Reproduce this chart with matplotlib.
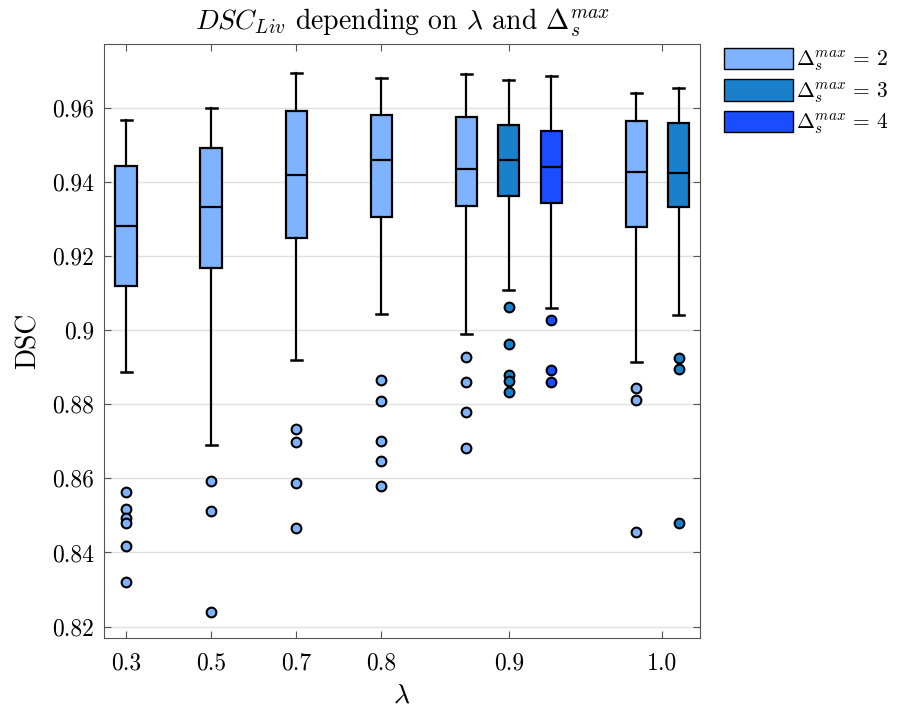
import matplotlib
matplotlib.use('Agg')
import matplotlib.pyplot as plt
from matplotlib.patches import Patch

plt.rcParams['font.family'] = 'serif'
plt.rcParams['font.serif'] = ['cmr10']
plt.rcParams['mathtext.fontset'] = 'cm'
plt.rcParams['axes.unicode_minus'] = False

# data
positions = [1, 2, 3, 4, 5, 5.5, 6, 7, 7.5]
groups = [2, 2, 2, 2, 2, 3, 4, 2, 3]
whislo = [0.8887, 0.8690, 0.8920, 0.9045, 0.8989, 0.9110, 0.9060, 0.8914, 0.9041]
q1 = [0.9120, 0.9168, 0.9248, 0.9305, 0.9335, 0.9363, 0.9343, 0.9280, 0.9334]
med = [0.9282, 0.9332, 0.9418, 0.9460, 0.9435, 0.9460, 0.9442, 0.9427, 0.9425]
q3 = [0.9443, 0.9493, 0.9591, 0.9581, 0.9575, 0.9555, 0.9539, 0.9566, 0.9560]
whishi = [0.9568, 0.9600, 0.9696, 0.9681, 0.9691, 0.9676, 0.9686, 0.9642, 0.9654]
fliers = [
    [0.8564, 0.8518, 0.8494, 0.8479, 0.8418, 0.8320],
    [0.8594, 0.8512, 0.8240],
    [0.8734, 0.8698, 0.8588, 0.8466],
    [0.8866, 0.8809, 0.8701, 0.8647, 0.8580],
    [0.8927, 0.8861, 0.8780, 0.8681],
    [0.9062, 0.8962, 0.8879, 0.8864, 0.8833],
    [0.9028, 0.8893, 0.8860],
    [0.8843, 0.8811, 0.8456],
    [0.8926, 0.8895, 0.8480],
]
tick_pos = [1, 2, 3, 4, 5.5, 7.3]
tick_labels = ['0.3', '0.5', '0.7', '0.8', '0.9', '1.0']
ytick_vals = [0.82, 0.84, 0.86, 0.88, 0.9, 0.92, 0.94, 0.96]
ytick_labels = ['0.82', '0.84', '0.86', '0.88', '0.9', '0.92', '0.94', '0.96']

colors = {2: '#80b3ff', 3: '#1a80cc', 4: '#1a4dff'}

fig = plt.figure(figsize=(8.98, 7.10), dpi=100)
ax = fig.add_axes([0.1158, 0.1014, 0.6637, 0.8366])

stats = []
for i in range(len(positions)):
    stats.append({'whislo': whislo[i], 'q1': q1[i], 'med': med[i], 'q3': q3[i],
                  'whishi': whishi[i], 'fliers': fliers[i]})

for i in range(len(stats)):
    c = colors[groups[i]]
    ax.bxp([stats[i]], positions=[positions[i]], widths=0.25, patch_artist=True,
           showfliers=True,
           boxprops=dict(facecolor=c, edgecolor='black', linewidth=1.6),
           medianprops=dict(color='black', linewidth=1.6),
           whiskerprops=dict(color='black', linewidth=1.6),
           capprops=dict(color='black', linewidth=1.8),
           capwidths=0.13,
           flierprops=dict(marker='o', markerfacecolor=c, markeredgecolor='black',
                           markersize=7, markeredgewidth=1.5),
           manage_ticks=False, zorder=3)

ax.set_xlim(0.74, 7.75)
ax.set_ylim(0.8169, 0.9773)
ax.set_xticks(tick_pos)
ax.set_xticklabels(tick_labels)
ax.set_yticks(ytick_vals)
ax.set_yticklabels(ytick_labels)
ax.tick_params(direction='in', top=True, right=True, labelsize=17, color='#555555', length=5)
ax.tick_params(axis='x', pad=10)
ax.tick_params(axis='y', pad=7)
for s in ax.spines.values():
    s.set_color('#555555')
ax.yaxis.grid(True, color='#e0e0e0', linewidth=1)
ax.set_axisbelow(True)

ax.set_title(r'$DSC_{Liv}$ depending on $\lambda$ and $\Delta_s^{max}$', fontsize=20, pad=10)
ax.set_ylabel('DSC', fontsize=20, labelpad=8)
ax.set_xlabel(r'$\lambda$', fontsize=20, labelpad=6)

handles = [Patch(facecolor=colors[k], edgecolor='black', label=r'$\Delta_s^{max}\,=\,%d$' % k)
           for k in [2, 3, 4]]
fig.legend(handles=handles, loc='upper left', bbox_to_anchor=(0.797, 0.945),
           frameon=False, fontsize=15.5, handlelength=3.2, handleheight=1.15,
           handletextpad=0.15, labelspacing=0.28, borderaxespad=0)

fig.savefig('out.png', dpi=100)
